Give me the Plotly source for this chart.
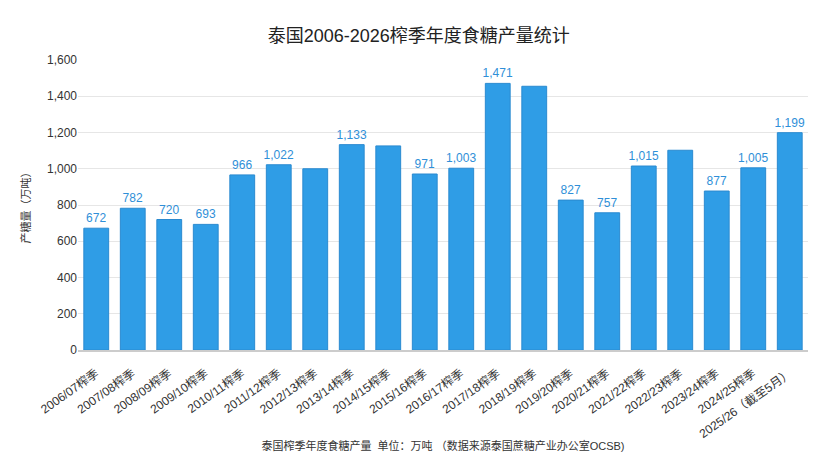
import plotly.graph_objects as go

seasons = ["2006/07榨季", "2007/08榨季", "2008/09榨季", "2009/10榨季", "2010/11榨季",
           "2011/12榨季", "2012/13榨季", "2013/14榨季", "2014/15榨季", "2015/16榨季",
           "2016/17榨季", "2017/18榨季", "2018/19榨季", "2019/20榨季", "2020/21榨季",
           "2021/22榨季", "2022/23榨季", "2023/24榨季", "2024/25榨季", "2025/26（截至5月）"]
output = [672, 782, 720, 693, 966, 1022, 1000, 1133, 1126, 971,
          1003, 1471, 1455, 827, 757, 1015, 1102, 877, 1005, 1199]
# the reference hides some labels where they would crowd
show_label = [True, True, True, True, True, True, False, True, False, True,
              True, True, False, True, True, True, False, True, True, True]

labels = ["{:,}".format(v) if s else "" for v, s in zip(output, show_label)]

font_family = "Helvetica, Arial, 'Noto Sans CJK SC', sans-serif"

fig = go.Figure(go.Bar(
    x=seasons,
    y=output,
    text=labels,
    textposition="outside",
    constraintext="none",
    textfont=dict(color="#2f8fd8", size=12),
    cliponaxis=False,
    marker=dict(color="#2f9de6", line=dict(color="#2a8ad0", width=1)),
))

fig.update_layout(
    width=835, height=463,
    title=dict(text="泰国2006-2026榨季年度食糖产量统计", x=0.492, y=0.94, xanchor="center",
               yanchor="middle", font=dict(size=18, color="#222")),
    font=dict(family=font_family, color="#444"),
    plot_bgcolor="white", paper_bgcolor="white",
    margin=dict(l=70, r=35, t=52, b=121),
    bargap=0.32,
    showlegend=False,
)
fig.update_xaxes(
    tickangle=-35, tickfont=dict(size=12, color="#333"),
    ticklabelstandoff=10,
    showline=True, linecolor="#ccc", linewidth=2, ticks="",
    title=dict(text="泰国榨季年度食糖产量  单位：万吨 （数据来源泰国蔗糖产业办公室OCSB)",
               font=dict(size=11, color="#333"), standoff=2),
)
fig.update_yaxes(
    range=[0, 1600], dtick=200, tickformat=",",
    tickfont=dict(size=12, color="#333"),
    showgrid=True, gridcolor="#e6e6e6", zeroline=False,
    title=dict(text="产糖量（万吨）", font=dict(size=11, color="#333"), standoff=14),
)

fig.write_html("out.html")
